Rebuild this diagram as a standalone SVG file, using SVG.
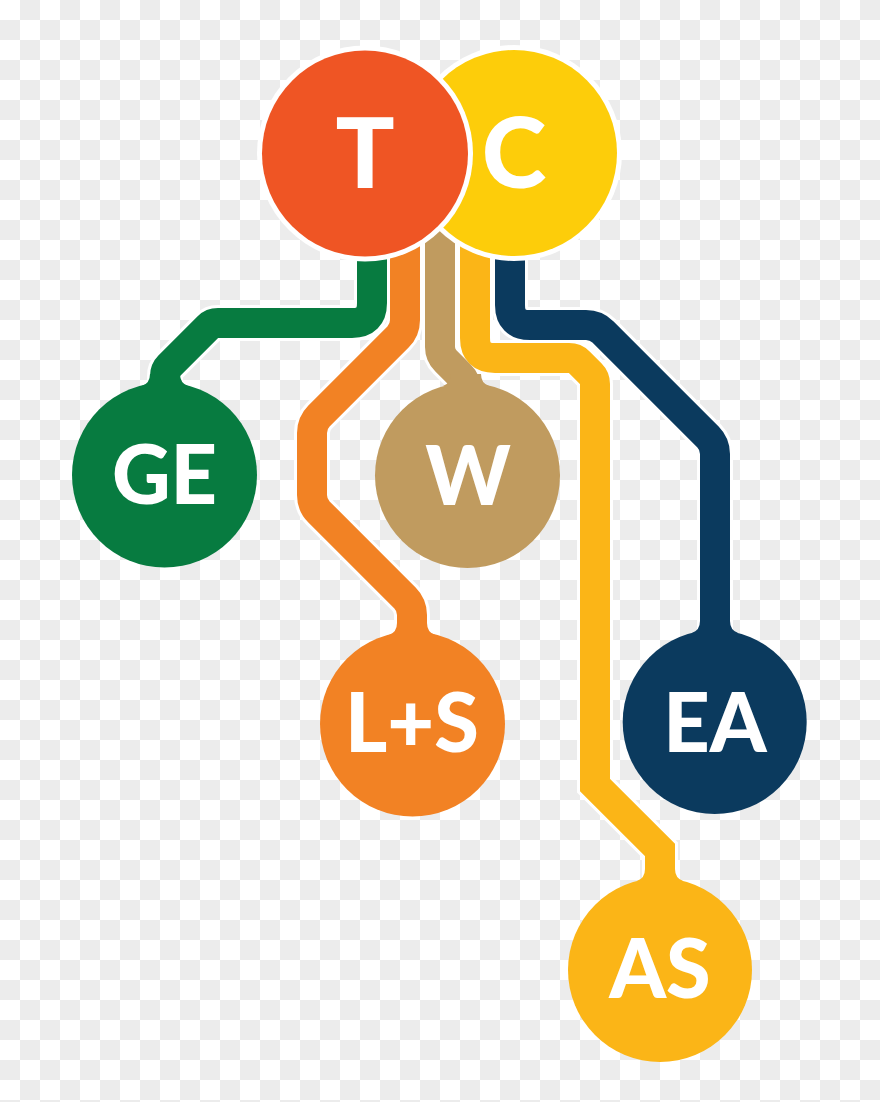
<svg xmlns="http://www.w3.org/2000/svg" width="880" height="1102" viewBox="0 0 880 1102">
<defs>
<pattern id="checker" x="0" y="0" width="40" height="40" patternUnits="userSpaceOnUse">
<rect x="0" y="0" width="40" height="40" fill="#ffffff"/>
<rect x="20" y="0" width="20" height="20" fill="#ececec"/>
<rect x="0" y="20" width="20" height="20" fill="#ececec"/>
</pattern>
</defs>
<style>
.casing{fill:none;stroke:#ffffff;stroke-width:36;stroke-linejoin:miter;stroke-linecap:butt}
.line{fill:none;stroke-width:30;stroke-linejoin:miter;stroke-linecap:butt}
.lbl{font-family:Lato,"Liberation Sans",sans-serif;font-weight:900;fill:#ffffff;text-anchor:middle}
.big{font-size:98px}
.small{font-size:81px}
</style>
<rect x="0" y="0" width="880" height="1102" fill="url(#checker)"/>
<g id="connectors">
<path class="casing" d="M372,200 V303 Q372,323 352,323 H218 Q212,323 208,327 L169,366 Q165,370 165,376 V420"/>
<path class="casing" d="M405,200 V320 Q405,330 398,337 L319,416 Q312,423 312,433 V495 Q312,505 319,512 L405,598 Q412,605 412,615 V660"/>
<path class="casing" d="M440,200 V347 Q440,355 446,361 L460,375 Q466,381 466,389 V420"/>
<path class="casing" d="M475,200 V338 Q475,358 495,358 H569 Q575,358 579,362 L591,374 Q595,378 595,384 V785 L660,850 V910"/>
<path class="casing" d="M510,200 V305 Q510,325 530,325 H586 Q596,325 603,332 L708,437 Q715,444 715,454 V660"/>
<path class="line" stroke="#077b40" d="M372,200 V303 Q372,323 352,323 H218 Q212,323 208,327 L169,366 Q165,370 165,376 V420"/>
<path class="line" stroke="#f28224" d="M405,200 V320 Q405,330 398,337 L319,416 Q312,423 312,433 V495 Q312,505 319,512 L405,598 Q412,605 412,615 V660"/>
<path class="line" stroke="#c09b5f" d="M440,200 V347 Q440,355 446,361 L460,375 Q466,381 466,389 V420"/>
<path class="line" stroke="#fbb517" d="M475,200 V338 Q475,358 495,358 H569 Q575,358 579,362 L591,374 Q595,378 595,384 V785 L660,850 V910"/>
<path class="line" stroke="#0b3a5e" d="M510,200 V305 Q510,325 530,325 H586 Q596,325 603,332 L708,437 Q715,444 715,454 V660"/>
</g>
<g id="node-C">
<circle cx="514" cy="153" r="108" fill="#ffffff"/>
<circle cx="514" cy="153" r="103" fill="#fdcd0a"/>
<text class="lbl big" x="514" y="188">C</text>
</g>
<g id="node-T">
<circle cx="365" cy="153.5" r="108" fill="#ffffff"/>
<circle cx="365" cy="153.5" r="103" fill="#ef5524"/>
<text class="lbl big" x="365" y="188">T</text>
</g>
<g id="node-GE">
<circle cx="164.5" cy="475" r="92.5" fill="#077b40"/>
<path fill="#077b40" d="M150,374 Q150,383 142,386 L188,386 Q180,383 180,374 Z"/>
<text class="lbl small" x="164.5" y="504">GE</text>
</g>
<g id="node-W">
<circle cx="467.5" cy="475.5" r="92.5" fill="#c09b5f"/>
<path fill="#c09b5f" d="M451,374 Q451,383 443,386 L489,386 Q481,383 481,374 Z"/>
<text class="lbl small" x="468" y="505">W</text>
</g>
<g id="node-LS">
<circle cx="412.5" cy="724" r="92.5" fill="#f28224"/>
<path fill="#f28224" d="M397,623 Q397,632 389,635 L435,635 Q427,632 427,623 Z"/>
<text class="lbl small" x="412" y="752">L+S</text>
</g>
<g id="node-EA">
<circle cx="714.7" cy="722" r="92" fill="#0b3a5e"/>
<path fill="#0b3a5e" d="M700,621 Q700,630 692,633 L738,633 Q730,630 730,621 Z"/>
<text class="lbl small" x="715" y="752">EA</text>
</g>
<g id="node-AS">
<circle cx="660" cy="970" r="92" fill="#fbb517"/>
<path fill="#fbb517" d="M645,869 Q645,878 637,881 L683,881 Q675,878 675,869 Z"/>
<text class="lbl small" x="660" y="998">AS</text>
</g>
</svg>
